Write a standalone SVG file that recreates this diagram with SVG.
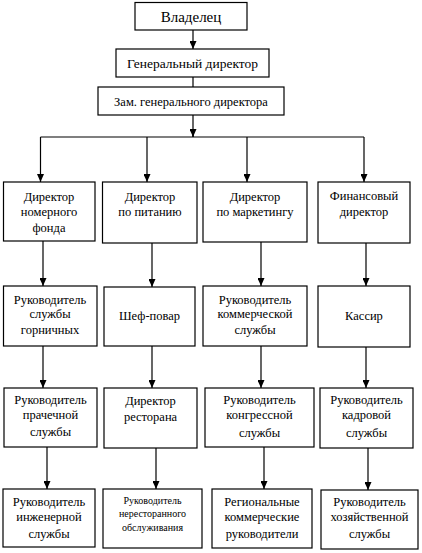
<svg xmlns="http://www.w3.org/2000/svg" width="422" height="553" viewBox="0 0 422 553">
<defs>
<marker id="ah" markerWidth="8" markerHeight="7" refX="8" refY="3.5" orient="auto" markerUnits="userSpaceOnUse">
<path d="M0,0 L8,3.5 L0,7 Z" fill="#000"/>
</marker>
</defs>
<style>
rect{fill:#fff;stroke:#000;stroke-width:1.2}
text{font-family:"Liberation Serif","Times New Roman",serif;font-size:12.5px;fill:#000;text-anchor:middle}
.sm{font-size:10px}
.big{font-size:15px}
.md{font-size:13.5px}
.c line,.c path{stroke:#000;stroke-width:1.2;fill:none}
.a{marker-end:url(#ah)}
</style>
<rect x="0" y="0" width="422" height="553" style="fill:#fff;stroke:none"/>
<g class="c" id="connectors">
<line class="a" x1="193" y1="30" x2="193" y2="49"/>
<line x1="193" y1="77" x2="193" y2="87"/>
<line x1="193" y1="115" x2="193" y2="137"/>
<path class="a" d="M193,130 L193,137"/>
<line x1="40.5" y1="137" x2="364" y2="137"/>
<line class="a" x1="40.5" y1="137" x2="40.5" y2="182"/>
<line class="a" x1="147" y1="137" x2="147" y2="182"/>
<line class="a" x1="247" y1="137" x2="247" y2="182"/>
<line class="a" x1="364" y1="137" x2="364" y2="182"/>
<line class="a" x1="43" y1="241" x2="43" y2="286"/>
<line class="a" x1="152" y1="243" x2="152" y2="287"/>
<line class="a" x1="261" y1="242" x2="261" y2="286"/>
<line class="a" x1="366" y1="243" x2="366" y2="286"/>
<line class="a" x1="43" y1="346" x2="43" y2="388"/>
<line class="a" x1="152" y1="346" x2="152" y2="388"/>
<line class="a" x1="261" y1="346" x2="261" y2="388"/>
<line class="a" x1="366" y1="347" x2="366" y2="388"/>
<line class="a" x1="47" y1="447" x2="47" y2="489"/>
<line class="a" x1="156" y1="448" x2="156" y2="489"/>
<line class="a" x1="264" y1="447" x2="264" y2="489"/>
<line class="a" x1="368" y1="448" x2="368" y2="490"/>
</g>
<g id="owner"><rect x="135" y="2.5" width="112" height="27.5"/><text class="big" x="191" y="22">Владелец</text></g>
<g id="gendir"><rect x="116" y="49" width="153" height="28"/><text class="md" x="192.5" y="67.5">Генеральный директор</text></g>
<g id="deputy"><rect x="98" y="87" width="186" height="28"/><text x="191" y="106">Зам. генерального директора</text></g>

<g id="d1"><rect x="3.5" y="182" width="91.5" height="59"/><text x="49" y="200.5">Директор</text><text x="49" y="215.5">номерного</text><text x="49" y="231.5">фонда</text></g>
<g id="d2"><rect x="102.5" y="182" width="94.5" height="61"/><text x="150" y="200.5">Директор</text><text x="150" y="215.5">по питанию</text></g>
<g id="d3"><rect x="203" y="182" width="104" height="60"/><text x="255" y="200.5">Директор</text><text x="255" y="215.5">по маркетингу</text></g>
<g id="d4"><rect x="318" y="182" width="92" height="61"/><text x="364" y="199.5">Финансовый</text><text x="364" y="215.5">директор</text></g>

<g id="r1"><rect x="3.5" y="286" width="93.5" height="60"/><text x="50" y="303.5">Руководитель</text><text x="50" y="318">службы</text><text x="50" y="333.5">горничных</text></g>
<g id="r2"><rect x="104" y="287" width="91" height="59"/><text x="149.5" y="319.5">Шеф-повар</text></g>
<g id="r3"><rect x="203" y="286" width="104" height="60"/><text x="255" y="303.5">Руководитель</text><text x="255" y="318">коммерческой</text><text x="255" y="333.5">службы</text></g>
<g id="r4"><rect x="318" y="286" width="92" height="61"/><text x="364" y="319.5">Кассир</text></g>

<g id="s1"><rect x="4" y="388" width="93" height="59"/><text x="50.5" y="404">Руководитель</text><text x="50.5" y="419">прачечной</text><text x="50.5" y="436">службы</text></g>
<g id="s2"><rect x="104" y="388" width="93" height="60"/><text x="150.5" y="404.5">Директор</text><text x="150.5" y="421">ресторана</text></g>
<g id="s3"><rect x="205" y="388" width="109" height="59"/><text x="259.5" y="404">Руководитель</text><text x="259.5" y="419">конгрессной</text><text x="259.5" y="437">службы</text></g>
<g id="s4"><rect x="320" y="388" width="93" height="60"/><text x="366.5" y="404">Руководитель</text><text x="366.5" y="419">кадровой</text><text x="366.5" y="437">службы</text></g>

<g id="t1"><rect x="3" y="489" width="92" height="58"/><text x="49" y="505.5">Руководитель</text><text x="49" y="520.5">инженерной</text><text x="49" y="537.5">службы</text></g>
<g id="t2"><rect x="103" y="489" width="99" height="59"/><text class="sm" x="152.5" y="503.5">Руководитель</text><text class="sm" x="152.5" y="516.5">нересторанного</text><text class="sm" x="152.5" y="530.5">обслуживания</text></g>
<g id="t3"><rect x="212" y="489" width="100" height="59"/><text x="262" y="505.5">Региональные</text><text x="262" y="520.5">коммерческие</text><text x="262" y="537.5">руководители</text></g>
<g id="t4"><rect x="321" y="490" width="97" height="59"/><text x="369.5" y="505.5">Руководитель</text><text x="369.5" y="520.5">хозяйственной</text><text x="369.5" y="537.5">службы</text></g>
</svg>
